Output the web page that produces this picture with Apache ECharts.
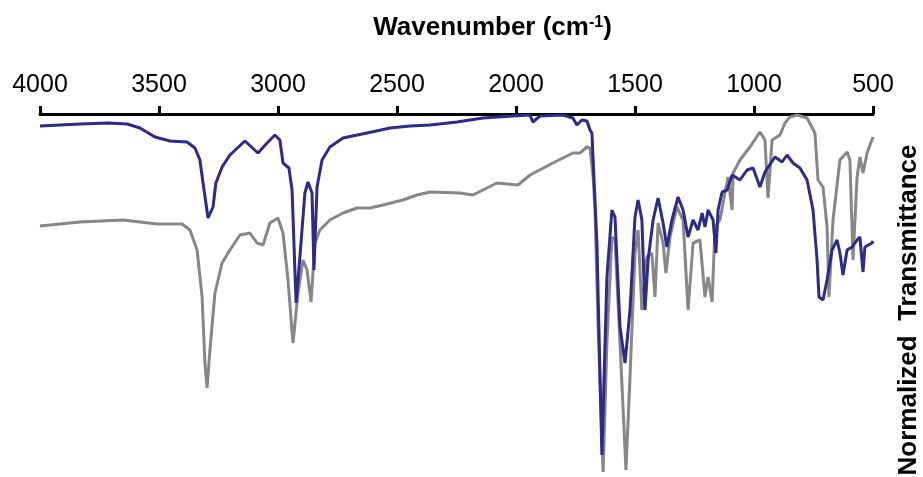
<!DOCTYPE html>
<html>
<head>
<meta charset="utf-8">
<script src="https://cdn.jsdelivr.net/npm/echarts@6/dist/echarts.min.js"></script>
<style>html,body{margin:0;padding:0;background:#fff}#c{width:923px;height:477px}</style>
</head>
<body>
<div id="c"></div>
<script>
// Wavenumber ticks
var xTicks = [4000, 3500, 3000, 2500, 2000, 1500, 1000, 500];

// Blue spectrum (wavenumber, normalized transmittance)
var wnBlue = [4000,3832,3714,3634,3580,3517,3454,3382,3349,3328,3315,3294,3273,3261,3235,3202,3139,3084,3046,3013,2992,2979,2954,2941,2924,2908,2887,2874,2857,2849,2836,2815,2782,2727,2626,2529,2445,2361,2248,2139,2013,1941,1929,1899,1803,1761,1744,1723,1702,1689,1681,1660,1647,1639,1618,1597,1584,1563,1542,1521,1500,1487,1471,1458,1445,1424,1403,1382,1366,1345,1319,1298,1277,1256,1235,1218,1206,1193,1172,1160,1151,1134,1113,1092,1059,1029,1004,975,954,912,882,861,836,807,777,752,735,727,710,693,672,651,639,626,609,588,567,555,542,534,504,500];
var tBlue = [3.48,3.50,3.51,3.50,3.46,3.37,3.33,3.32,3.26,3.14,2.91,2.56,2.67,2.91,3.07,3.19,3.33,3.21,3.31,3.39,3.34,3.11,3.06,2.84,1.71,2.17,2.81,2.92,2.81,2.04,2.87,3.14,3.27,3.36,3.41,3.46,3.48,3.49,3.52,3.56,3.58,3.59,3.52,3.58,3.59,3.56,3.49,3.54,3.53,3.44,3.41,2.31,0.97,0.19,1.97,2.64,2.57,1.47,1.11,1.64,2.57,2.74,2.54,1.64,2.14,2.54,2.76,2.51,2.27,2.54,2.77,2.64,2.37,2.54,2.44,2.61,2.47,2.64,2.54,2.21,2.64,2.82,2.84,2.99,2.94,3.04,3.06,2.87,3.02,3.17,3.12,3.19,3.11,3.06,2.94,2.64,2.14,1.77,1.74,1.94,2.24,2.34,2.21,1.99,2.24,2.27,2.34,2.37,2.02,2.27,2.31,2.33];

// Gray spectrum (wavenumber, normalized transmittance)
var wnGray = [4000,3832,3651,3508,3403,3370,3340,3319,3307,3298,3286,3265,3235,3202,3160,3118,3088,3063,3034,3000,2979,2958,2937,2916,2895,2878,2861,2845,2824,2782,2727,2668,2613,2559,2475,2416,2361,2235,2181,2080,1992,1941,1845,1761,1731,1702,1689,1676,1668,1655,1634,1618,1597,1584,1563,1538,1521,1500,1487,1471,1450,1429,1416,1403,1382,1370,1353,1324,1298,1277,1256,1227,1206,1193,1176,1164,1143,1122,1109,1092,1088,1059,1017,975,954,941,924,891,870,849,819,777,744,731,710,693,685,668,639,609,597,584,567,555,542,525,500];
var tGray = [2.48,2.52,2.54,2.50,2.50,2.44,2.24,1.77,1.11,0.86,1.24,1.81,2.11,2.24,2.39,2.41,2.31,2.29,2.51,2.56,2.41,1.94,1.31,1.81,2.14,2.04,1.72,2.31,2.44,2.54,2.61,2.66,2.66,2.69,2.74,2.79,2.82,2.81,2.79,2.91,2.89,2.99,3.11,3.21,3.21,3.27,3.26,2.97,2.64,1.47,0.02,1.31,2.37,2.34,1.31,0.04,0.97,2.21,2.44,1.64,2.17,2.21,1.77,2.51,2.31,2.01,2.37,2.67,2.54,1.64,2.31,2.34,1.77,1.97,1.72,2.47,2.54,2.81,2.97,2.64,3.01,3.14,3.27,3.42,3.34,2.76,3.34,3.39,3.51,3.57,3.59,3.56,3.41,2.94,2.87,2.47,1.77,2.54,3.14,3.22,3.14,2.14,2.97,3.17,3.01,3.21,3.37];

function zip(a, b) { return a.map(function (v, i) { return [v, b[i]]; }); }

var FONT = '"Liberation Sans", Arial, sans-serif';
var chart = echarts.init(document.getElementById('c'));
chart.setOption({
  animation: false,
  backgroundColor: '#fff',
  grid: { left: 40, right: 50, top: 114, bottom: 3, containLabel: false, outerBoundsMode: 'none' },
  xAxis: {
    type: 'value',
    position: 'top',
    inverse: true,
    min: 500, max: 4000, interval: 500,
    name: '{b|Wavenumber (cm}{s|-1}{b|)}',
    nameLocation: 'middle',
    nameGap: 73,
    nameTextStyle: {
      padding: [0, 0, 0, 72],
      rich: {
        b: { fontSize: 26, fontWeight: 'bold', color: '#000', fontFamily: FONT },
        s: { fontSize: 16, fontWeight: 'bold', color: '#000', fontFamily: FONT, verticalAlign: 'top' }
      }
    },
    axisLine: { show: true, onZero: false, lineStyle: { color: '#000', width: 3 } },
    axisTick: { show: true, length: 8, lineStyle: { color: '#000', width: 3 } },
    axisLabel: { fontSize: 25, color: '#000', fontFamily: FONT, margin: 16,
      formatter: function (v) { return xTicks.indexOf(v) >= 0 ? String(v) : ''; } },
    splitLine: { show: false }
  },
  yAxis: {
    type: 'value',
    position: 'right',
    min: 0, max: 3.6,
    name: 'Normalized  Transmittance',
    nameLocation: 'middle',
    nameGap: 23,
    nameTextStyle: { fontSize: 26, fontWeight: 'bold', color: '#000', fontFamily: FONT, padding: [0, 32, 0, 0] },
    axisLine: { show: false },
    axisTick: { show: false },
    axisLabel: { show: false },
    splitLine: { show: false }
  },
  series: [
    { type: 'line', data: zip(wnGray, tGray), showSymbol: false, clip: false, lineStyle: { color: '#878787', width: 3 }, z: 2 },
    { type: 'line', data: zip(wnBlue, tBlue), showSymbol: false, clip: false, lineStyle: { color: '#2E2A8C', width: 3 }, z: 3 }
  ]
});
</script>
</body>
</html>
